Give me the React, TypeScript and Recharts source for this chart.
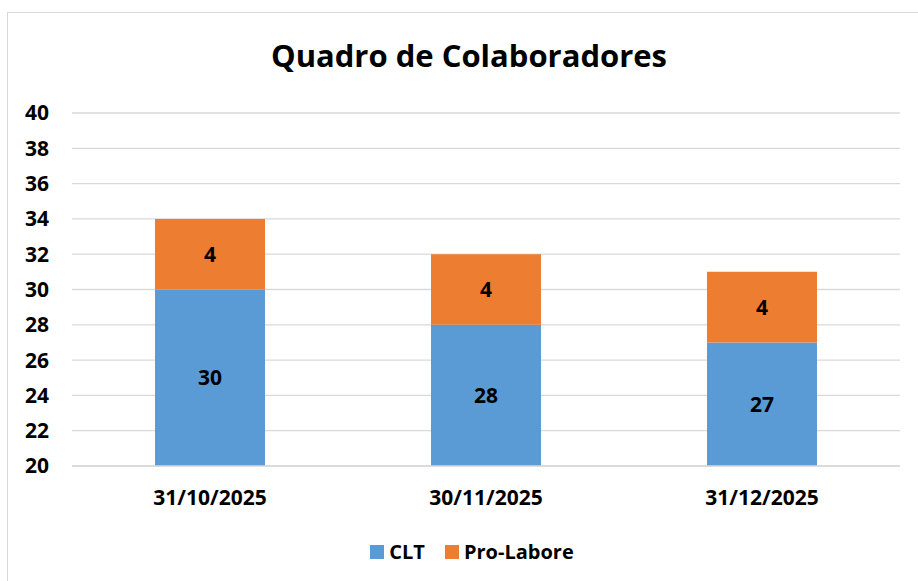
import React from 'react';
import { BarChart, Bar, XAxis, YAxis, CartesianGrid, Legend, LabelList } from 'recharts';

const categories = ['31/10/2025', '30/11/2025', '31/12/2025'];
const cltValues = [30, 28, 27];
const proLaboreValues = [4, 4, 4];
const yTicks = [20, 22, 24, 26, 28, 30, 32, 34, 36, 38, 40];
const seriesNames = { clt: 'CLT', pro: 'Pro-Labore' };

const data = categories.map((c, i) => ({ name: c, clt: cltValues[i], pro: proLaboreValues[i] }));

const FONT = "'Open Sans', Lato, sans-serif";
const BLUE = '#5B9BD5';
const ORANGE = '#ED7D31';
const GRID = '#D9D9D9';

const renderLegend = (props: any) => {
  const { payload } = props;
  return (
    <div style={{ display: 'flex', justifyContent: 'center', alignItems: 'center', fontFamily: FONT, paddingLeft: 44 }}>
      {payload.map((p: any, i: number) => (
        <div key={i} style={{ display: 'flex', alignItems: 'center', marginRight: i === 0 ? 20 : 0 }}>
          <span style={{ display: 'inline-block', width: 14, height: 14, background: p.color, marginRight: 5 }} />
          <span style={{ fontWeight: 700, fontSize: 20, color: '#000' }}>{p.value}</span>
        </div>
      ))}
    </div>
  );
};

export default function App() {
  return (
    <div style={{ position: 'absolute', left: 0, top: 0, width: 918, height: 581, overflow: 'hidden', background: '#fff' }}>
      <div style={{ position: 'absolute', left: 7, top: 12, width: 940, height: 620, border: `1px solid ${GRID}`, boxSizing: 'border-box' }} />
      <div style={{ position: 'absolute', left: 0, top: 34, width: 938, textAlign: 'center', fontFamily: FONT, fontWeight: 700, fontSize: 31, color: '#000' }}>
        Quadro de Colaboradores
      </div>
      <div style={{ position: 'absolute', left: 0, top: 0 }}>
        <BarChart width={918} height={581} data={data} margin={{ top: 113, right: 18, bottom: 0, left: 0 }}>
          <CartesianGrid vertical={false} stroke={GRID} strokeWidth={1.3} />
          <XAxis
            dataKey="name"
            axisLine={{ stroke: GRID, strokeWidth: 1.3 }}
            tickLine={false}
            tickSize={0}
            tickMargin={24}
            height={60}
            tick={{ fill: '#000', fontSize: 21, fontWeight: 700, fontFamily: FONT }}
          />
          <YAxis
            width={72}
            domain={[20, 40]}
            ticks={yTicks}
            allowDataOverflow
            axisLine={false}
            tickLine={false}
            tickSize={0}
            tickMargin={23}
            interval={0}
            tick={{ fill: '#000', fontSize: 21, fontWeight: 700, fontFamily: FONT }}
          />
          <Legend verticalAlign="bottom" height={55} content={renderLegend} wrapperStyle={{ top: 538 }} />
          <Bar dataKey="clt" name={seriesNames.clt} stackId="a" fill={BLUE} barSize={110} isAnimationActive={false}>
            <LabelList dataKey="clt" position="center" fill="#000" fontSize={21} fontWeight={700} fontFamily={FONT} />
          </Bar>
          <Bar dataKey="pro" name={seriesNames.pro} stackId="a" fill={ORANGE} barSize={110} isAnimationActive={false}>
            <LabelList dataKey="pro" position="center" fill="#000" fontSize={21} fontWeight={700} fontFamily={FONT} />
          </Bar>
        </BarChart>
      </div>
    </div>
  );
}
